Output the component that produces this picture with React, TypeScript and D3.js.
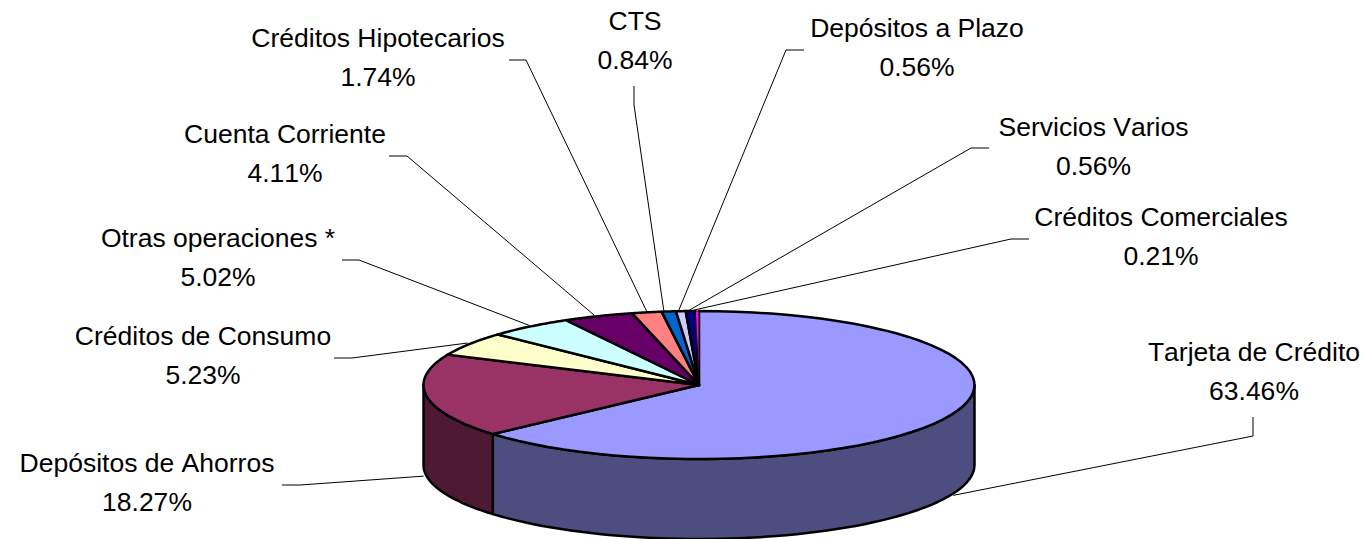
import React from 'react';
import * as d3 from 'd3';

const categories = [
  'Tarjeta de Crédito',
  'Depósitos de Ahorros',
  'Créditos de Consumo',
  'Otras operaciones *',
  'Cuenta Corriente',
  'Créditos Hipotecarios',
  'CTS',
  'Depósitos a Plazo',
  'Servicios Varios',
  'Créditos Comerciales',
];
const shares = [63.46, 18.27, 5.23, 5.02, 4.11, 1.74, 0.84, 0.56, 0.56, 0.21];
const topColors = ['#9999ff', '#993366', '#ffffcc', '#ccffff', '#660066', '#ff8080', '#0066cc', '#ccccff', '#000080', '#ff00ff'];
const sideColors = ['#4d4d80', '#4d1933', '#808066', '#668080', '#330033', '#804040', '#003366', '#666680', '#000040', '#800080'];

// label centre [x, first baseline], then the leader's free end and its elbow
const labelPos = [[1254, 360.5], [147, 472], [203, 345], [218, 247], [285, 143], [378, 47], [635, 30], [917, 37], [1093.5, 136], [1161, 226]];
const leaderEnd = [[1253, 417], [282, 485], [334, 358], [342, 260], [389, 156], [509, 60], [634, 86], [804, 50], [989, 148], [1029, 239]];
const leaderElbow = [[1253, 436], [300, 485], [352, 358], [359, 260], [407, 156], [526, 60], [634, 105], [786, 50], [971, 148], [1011, 239]];
// the original's leaders stop a little short of the true slice middle
const tipShift = [3, -3, -2, 0, -4, 0, -5, -2, -1, -3];

const width = 1372;
const height = 539;
const cx = 699;
const cy = 385;
const rx = 275.5;
const ry = 74;
const depth = 80;

const arcs = d3.pie<number>().sort(null).value(d => d)(shares);

// d3 pie angles start at 12 o'clock and run clockwise, squash them on to the ellipse
const sx = d3.scaleLinear().domain([-1, 1]).range([cx - rx, cx + rx]);
const sy = d3.scaleLinear().domain([-1, 1]).range([cy - ry, cy + ry]);
const ex = (a: number) => sx(Math.sin(a));
const ey = (a: number) => sy(-Math.cos(a));

const rimPoints = (a0: number, a1: number, dy = 0): [number, number][] =>
  d3.range(0, 61).map(i => {
    const a = a0 + ((a1 - a0) * i) / 60;
    return [ex(a), ey(a) + dy];
  });

const line = d3.line();

const App = () => {
  return (
    <svg width={width} height={height} style={{ position: 'absolute', left: 0, top: 0, fontKerning: 'none' }} fontFamily="'Liberation Sans', Arial, sans-serif">
      {arcs.map((d, i) => {
        // wall is only visible on the front half of the pie
        const a0 = Math.max(d.startAngle, Math.PI / 2);
        const a1 = Math.min(d.endAngle, (3 * Math.PI) / 2);
        if (a1 <= a0) return null;
        const pts = [...rimPoints(a0, a1), ...rimPoints(a1, a0, depth)];
        return <path key={i} d={line(pts) + 'Z'} fill={sideColors[i]} stroke="#000" strokeWidth={2.5} strokeLinejoin="round" />;
      })}
      {arcs.map((d, i) => {
        const pts: [number, number][] = [[cx, cy], ...rimPoints(d.startAngle, d.endAngle)];
        // the thinnest slice would vanish under a full width outline
        const sw = shares[i] < 0.5 ? 1 : 2.5;
        return <path key={i} d={line(pts) + 'Z'} fill={topColors[i]} stroke="#000" strokeWidth={sw} strokeLinejoin="round" />;
      })}
      {arcs.map((d, i) => {
        const mid = (d.startAngle + d.endAngle) / 2;
        const onWall = i < 2;
        const tip: [number, number] = [ex(mid) + tipShift[i], ey(mid) + (onWall ? depth : -1)];
        const pts = [leaderEnd[i], leaderElbow[i], tip] as [number, number][];
        return <path key={i} d={line(pts)!} fill="none" stroke="#000" strokeWidth={1} />;
      })}
      {categories.map((c, i) => (
        <text key={c} y={labelPos[i][1]} fontSize={26.5} textAnchor="middle" fill="#000">
          <tspan x={labelPos[i][0]}>{c}</tspan>
          <tspan x={labelPos[i][0]} dy={39}>{shares[i].toFixed(2)}%</tspan>
        </text>
      ))}
    </svg>
  );
};

export default App;
